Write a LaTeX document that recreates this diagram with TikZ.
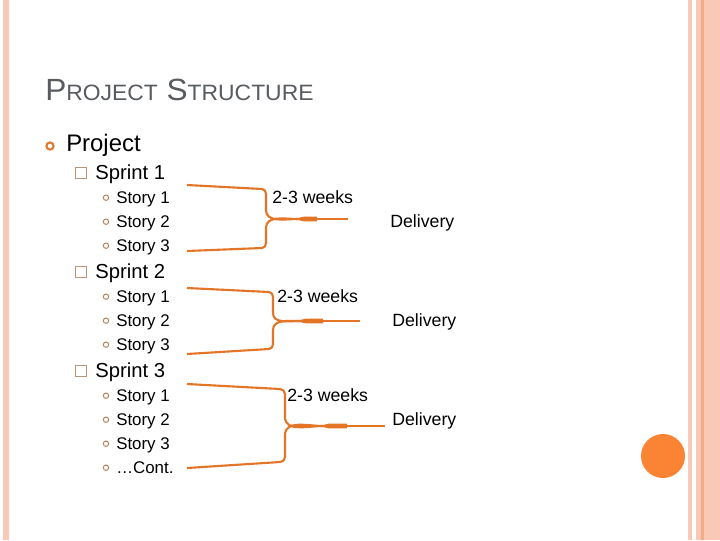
\documentclass[tikz,border=0pt]{standalone}
\usepackage{fontspec}
\setmainfont{Liberation Sans}
\definecolor{bandpink}{RGB}{250,200,182}
\definecolor{banddark}{RGB}{244,172,136}
\definecolor{dotorange}{RGB}{250,132,52}
\definecolor{bracketorange}{RGB}{228,116,38}
\definecolor{titlegray}{RGB}{88,92,96}
\definecolor{bulletorange}{RGB}{222,122,50}
\definecolor{bullettan}{RGB}{190,150,118}
\definecolor{bulletbrown}{RGB}{184,128,84}
\newcommand{\smcaps}[1]{{\fontsize{15.8}{18}\selectfont #1}}
\tikzset{
  title/.style={anchor=base west,inner sep=0pt,text=titlegray,font=\fontsize{21.8}{24}\selectfont},
  level1/.style={anchor=base west,inner sep=0pt,font=\fontsize{17}{20}\selectfont},
  level2/.style={anchor=base west,inner sep=0pt,font=\fontsize{14.4}{17}\selectfont},
  level3/.style={anchor=base west,inner sep=0pt,font=\fontsize{12}{14}\selectfont},
  note/.style={anchor=base west,inner sep=0pt,font=\fontsize{12.6}{15}\selectfont},
  ring1/.style={draw=bulletorange,line width=1.5pt},
  ring3/.style={draw=bulletbrown,line width=0.7pt},
  box2/.style={draw=bullettan,line width=0.5pt},
  arm/.style={draw=bracketorange,line width=1.5pt},
  joint/.style={fill=bracketorange}
}
\begin{document}
\begin{tikzpicture}[x=0.025cm,y=-0.025cm]
  \useasboundingbox (0,0) rectangle (720,540);
  % slide frame
  \fill[white] (0,0) rectangle (720,540);
  \fill[bandpink] (3,0) rectangle (9,540);
  \fill[bandpink] (688,0) rectangle (692,540);
  \fill[bandpink] (696,0) rectangle (720,540);
  \fill[banddark] (701,0) rectangle (703.5,540);
  \fill[dotorange] (663,456) circle (22);
  % title
  \node[title] (title) at (45,100) {\scalebox{1.03}[1]{P\smcaps{ROJECT} S\smcaps{TRUCTURE}}};
  % outline
  \draw[ring1] (50,146) circle (3.6);
  \node[level1] (project) at (66,151) {Project};
  \draw[box2] (75,167) rectangle (86,178);
  \node[level2] (sprint1) at (95,179.5) {Sprint 1};
  \draw[box2] (75,266) rectangle (86,277);
  \node[level2] (sprint2) at (95,278.5) {Sprint 2};
  \draw[box2] (75,365) rectangle (86,376);
  \node[level2] (sprint3) at (95,377.5) {Sprint 3};
  \foreach \y/\name in {203.5/Story 1,227.5/Story 2,251.5/Story 3,
                        302.5/Story 1,326.5/Story 2,350.5/Story 3,
                        401.5/Story 1,425.5/Story 2,449.5/Story 3,473.5/\dots Cont.}{
    \draw[ring3] (106,\y-5.8) circle (2.7);
    \node[level3] at (116,\y) {\name};
  }
  % sprint 1 bracket
  \coordinate (a1) at (187,185);
  \coordinate (b1) at (187,251);
  \coordinate (m1) at (298,219);
  \coordinate (e1) at (348,219);
  \draw[arm] (a1) -- (262,189) to[out=0,in=90] (266,194) -- (266,210) to[out=-90,in=180] (m1);
  \draw[arm] (b1) -- (262,248) to[out=0,in=-90] (266,243) -- (266,228) to[out=90,in=180] (m1);
  \draw[arm] (m1) -- (e1);
  \fill[joint] (m1) ++(0,-1) -- ++(6,-1.4) -- ++(13,0) -- ++(0,4.8) -- ++(-13,0) -- ++(-6,-1.4) -- cycle;
  \node[note] (weeks1) at (272,203.5) {2-3 weeks};
  \node[note] (deliv1) at (390,227) {Delivery};
  % sprint 2 bracket
  \coordinate (a2) at (187,288);
  \coordinate (b2) at (187,354);
  \coordinate (m2) at (300,321);
  \coordinate (e2) at (360,321);
  \draw[arm] (a2) -- (269,292) to[out=0,in=90] (273,297) -- (273,313) to[out=-90,in=180] (m2);
  \draw[arm] (b2) -- (269,349) to[out=0,in=-90] (273,344) -- (273,330) to[out=90,in=180] (m2);
  \draw[arm] (m2) -- (e2);
  \fill[joint] (m2) ++(0,-1) -- ++(6,-1.4) -- ++(17,0) -- ++(0,4.8) -- ++(-17,0) -- ++(-6,-1.4) -- cycle;
  \node[note] (weeks2) at (277,302) {2-3 weeks};
  \node[note] (deliv2) at (392,326) {Delivery};
  % sprint 3 bracket
  \coordinate (a3) at (187,384);
  \coordinate (b3) at (187,468);
  \coordinate (m3) at (323,426);
  \coordinate (e3) at (385,426);
  \draw[arm] (a3) -- (280,389) to[out=0,in=90] (285,394) -- (285,417) to[out=-90,in=180] (m3);
  \draw[arm] (b3) -- (280,462) to[out=0,in=-90] (285,457) -- (285,435) to[out=90,in=180] (m3);
  \draw[arm] (m3) -- (e3);
  \fill[joint] (m3) ++(0,-1) -- ++(6,-1.4) -- ++(18,0) -- ++(0,4.8) -- ++(-18,0) -- ++(-6,-1.4) -- cycle;
  \node[note] (weeks3) at (287,401) {2-3 weeks};
  \node[note] (deliv3) at (392,425) {Delivery};
\end{tikzpicture}
\end{document}
